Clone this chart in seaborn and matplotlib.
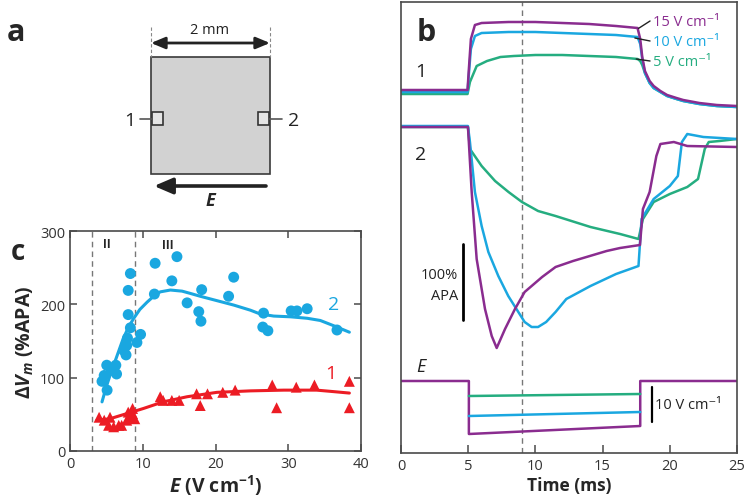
import matplotlib
matplotlib.use("Agg")
import matplotlib.pyplot as plt
import seaborn as sns
from matplotlib.patches import Rectangle, FancyArrowPatch

PURPLE = "#8a2c8f"
BLUE = "#1aa7e0"
GREEN = "#25ad80"
RED = "#ec1c24"
FRAME = "#4a4a4a"

# ---- panel c: peak depolarisation vs field strength ----
site2_e = [4.4, 4.7, 5.05, 5.1, 5.7, 6.3, 6.4, 7.4, 7.7, 7.8, 7.9, 8.0, 8.0, 8.3, 8.3,
           9.2, 9.7, 11.6, 11.7, 14.0, 14.7, 16.1, 17.7, 18.0, 18.1, 21.8, 22.5,
           26.5, 26.6, 27.2, 30.4, 31.2, 32.6, 36.7]
site2_v = [95, 103, 117, 83, 110, 117, 105, 137, 131, 144, 154, 186, 219, 242, 168,
           148, 159, 214, 256, 232, 265, 202, 190, 177, 220, 211, 237,
           169, 188, 164, 191, 191, 194, 165]
site1_e = [4.0, 4.7, 5.3, 5.5, 6.0, 6.7, 7.1, 7.8, 8.0, 8.3, 8.6, 8.6, 8.9, 12.4, 12.8,
           14.0, 15.0, 17.4, 17.9, 18.9, 21.0, 22.7, 27.8, 28.4, 31.1, 33.6, 38.4, 38.4]
site1_v = [46, 42, 35, 46, 33, 35, 35, 42, 53, 46, 58, 51, 44, 74, 69,
           69, 69, 78, 62, 78, 80, 83, 90, 59, 87, 90, 95, 59]
fit2_e = [4.4, 5.0, 5.5, 6.4, 7.3, 8.0, 8.7, 9.6, 10.6, 11.5, 12.4, 13.8, 15.4, 16.5,
          17.9, 20.2, 22.5, 24.8, 26.1, 28.0, 30.3, 32.6, 34.4, 36.2, 38.4]
fit2_v = [67, 88, 103, 128, 153, 168, 180, 193, 203, 211, 217, 219.5, 218, 215,
          211, 205, 199, 192, 187, 184, 183, 181, 178, 171, 162]
fit1_e = [3.7, 5.5, 7.8, 10.1, 12.8, 16.1, 20.2, 24.8, 29.4, 33.9, 36.2, 38.4]
fit1_v = [42, 44, 51, 58, 67, 74, 80, 82, 83, 83, 81, 79]
regime_edges = [3, 9]

# ---- panel b: optical traces (vertical position, axis points downward) ----
t1_fast = [0, 4.95, 5.05, 5.2, 5.5, 6.0, 8, 10, 12, 14, 16, 17.6, 17.8, 17.95, 18.15,
           18.5, 18.8, 19.3, 19.8, 20.5, 21.0, 22.2, 23.5, 25]
s1_15 = [91, 91, 70, 40, 26, 24, 23, 23, 24, 25, 27, 29, 40, 58, 72,
         82, 87, 92, 96, 99, 101, 104, 106, 107]
s1_10 = [93, 93, 75, 50, 37, 34, 33, 33, 34, 35, 36, 38, 45, 60, 74,
         84, 89, 93, 97, 100, 102, 105, 107, 108]
t1_slow = [0, 4.95, 5.13, 5.63, 6.4, 7.4, 8.4, 10, 12, 14, 16, 17.6, 17.8, 17.95, 18.15,
           18.5, 18.8, 19.3, 19.8, 20.5, 21.0, 22.2, 23.5, 25]
s1_5 = [95, 95, 83, 67, 62, 58, 57, 56, 56, 57, 58, 60, 62, 66, 74,
        84, 89, 93, 97, 100, 102, 105, 107, 108]

t2_15 = [0, 4.98, 5.0, 5.26, 5.63, 6.25, 6.75, 7.12, 7.74, 8.48, 9.2, 10.5, 11.5,
         12.8, 15.3, 16.3, 17.78, 18.0, 18.5, 19.0, 19.3, 20.3, 21.3, 25]
s2_15 = [128, 128, 132, 193, 260, 310, 337, 349, 330, 310, 293, 278, 268,
         262, 252, 249, 246, 210, 193, 157, 145, 143, 147, 148]
t2_10 = [0, 4.98, 5.13, 5.5, 6.0, 6.5, 7.24, 7.98, 8.73, 9.2, 9.72, 10.2, 10.8, 11.5,
         12.3, 14.1, 16.0, 17.67, 17.9, 18.8, 20.0, 20.6, 20.9, 21.3, 22.5, 25]
s2_10 = [127, 127, 143, 193, 227, 253, 277, 297, 313, 323, 328, 328, 323, 313,
         300, 287, 275, 267, 220, 200, 187, 177, 143, 135, 138, 140]
t2_5 = [0, 4.98, 5.13, 6.0, 7.0, 8.0, 9.0, 10.2, 11.5, 14.1, 16.3, 17.67, 18.0, 18.8,
        20.0, 21.3, 22.1, 22.6, 22.9, 23.7, 25]
s2_5 = [128, 128, 150, 167, 182, 193, 203, 212, 217, 228, 235, 240, 220, 203,
        195, 188, 180, 150, 143, 142, 140]

tE_15 = [0, 5.05, 5.05, 17.8, 17.8, 25]
sE_15 = [382, 382, 435, 427, 382, 382]
tE_on = [5.05, 17.8]
sE_10 = [417, 413]
sE_5 = [397, 395]

field_labels = ["15 V cm\u207b\u00b9", "10 V cm\u207b\u00b9", "5 V cm\u207b\u00b9"]
time_ticks = [0, 5, 10, 15, 20, 25]

sns.set_style("ticks")
plt.rcParams["font.family"] = ["Open Sans", "DejaVu Sans"]
plt.rcParams["mathtext.fontset"] = "custom"
plt.rcParams["mathtext.rm"] = "Open Sans:bold"
plt.rcParams["mathtext.it"] = "Open Sans:italic:bold"
plt.rcParams["mathtext.bf"] = "Open Sans:bold"

fig = plt.figure(figsize=(7.5, 5.02), dpi=100)

# ---------------- panel a (schematic) ----------------
ax_a = fig.add_axes([0, 301.2 / 502, 390 / 750, 200.8 / 502])
ax_a.set_xlim(0, 390)
ax_a.set_ylim(200.8, 0)
ax_a.axis("off")
ax_a.add_patch(Rectangle((151, 58), 119, 117, fc="#d2d2d2", ec="#3a3a3a", lw=1.2))
for x0 in (152, 258):
    ax_a.add_patch(Rectangle((x0, 113), 11, 13, fc="#e4e4e4", ec="#333333", lw=1.2))
ax_a.plot([140, 152], [120, 120], color="#555555", lw=1.2)
ax_a.plot([269, 282], [120, 120], color="#555555", lw=1.2)
ax_a.text(130, 121, "1", fontsize=14, ha="center", va="center", color="#222222")
ax_a.text(294, 121, "2", fontsize=14, ha="center", va="center", color="#222222")
for xv in (151, 270):
    ax_a.plot([xv, xv], [28, 58], color="#888888", lw=0.8, ls=(0, (3, 2)))
ax_a.add_patch(FancyArrowPatch((151, 44), (270, 44),
                               arrowstyle="<|-|>,head_length=0.6,head_width=0.25",
                               mutation_scale=14, lw=2, color="#222222",
                               shrinkA=0, shrinkB=0))
ax_a.text(210, 31, "2 mm", fontsize=10.5, ha="center", va="center", color="#222222")
ax_a.add_patch(FancyArrowPatch((266, 187), (154, 187),
                               arrowstyle="-|>,head_length=0.7,head_width=0.3",
                               mutation_scale=16, lw=2.6, color="#222222",
                               shrinkA=0, shrinkB=0))
ax_a.text(210, 201, "E", fontsize=13, style="italic", weight="bold",
          ha="center", va="center")
ax_a.text(16, 33, "a", fontsize=22, weight="bold", ha="center", va="center")

# ---------------- panel c ----------------
ax_c = fig.add_axes([70 / 750, 50 / 502, 291 / 750, 220 / 502])
for xe in regime_edges:
    ax_c.axvline(xe, color="#777777", lw=1, ls=(0, (4, 3)), zorder=1)
sns.lineplot(x=fit2_e, y=fit2_v, color=BLUE, lw=2.2, sort=False, estimator=None, ax=ax_c)
sns.scatterplot(x=site2_e, y=site2_v, color=BLUE, s=62, marker="o",
                edgecolor="none", ax=ax_c, zorder=3)
sns.lineplot(x=fit1_e, y=fit1_v, color=RED, lw=2.2, sort=False, estimator=None, ax=ax_c)
sns.scatterplot(x=site1_e, y=site1_v, color=RED, s=62, marker="^",
                edgecolor="none", ax=ax_c, zorder=3)
ax_c.set_xlim(0, 40)
ax_c.set_ylim(0, 300)
ax_c.set_xticks([0, 10, 20, 30, 40])
ax_c.set_yticks([0, 100, 200, 300])
ax_c.tick_params(direction="in", top=True, right=True, length=5, width=1.1,
                 labelsize=10.5, color=FRAME, labelcolor="#333333")
for sp in ax_c.spines.values():
    sp.set_color(FRAME)
    sp.set_linewidth(1.2)
ax_c.text(5.0, 283, "II", fontsize=8.5, weight="bold", ha="center", va="center")
ax_c.text(13.5, 282, "III", fontsize=8.5, weight="bold", ha="center", va="center")
ax_c.text(36.2, 200, "2", fontsize=14, color=BLUE, ha="center", va="center")
ax_c.text(35.9, 106, "1", fontsize=14, color=RED, ha="center", va="center")
ax_c.set_xlabel(r"$E$ (V cm$^{-1}$)", fontsize=14, weight="bold", labelpad=1)
ax_c.set_ylabel(r"$\Delta V_m$ (%APA)", fontsize=14, weight="bold", labelpad=3)
fig.text(18 / 750, 1 - 253 / 502, "c", fontsize=20, weight="bold", ha="center", va="center")

# ---------------- panel b ----------------
ax_b = fig.add_axes([401 / 750, 48 / 502, 336 / 750, 451 / 502])
ax_b.axvline(9, color="#777777", lw=1, ls=(0, (4, 3)), zorder=1)
kw = dict(lw=1.8, sort=False, estimator=None, ax=ax_b)
sns.lineplot(x=t1_slow, y=s1_5, color=GREEN, **kw)
sns.lineplot(x=t1_fast, y=s1_10, color=BLUE, **kw)
sns.lineplot(x=t1_fast, y=s1_15, color=PURPLE, **kw)
sns.lineplot(x=t2_5, y=s2_5, color=GREEN, **kw)
sns.lineplot(x=t2_10, y=s2_10, color=BLUE, **kw)
sns.lineplot(x=t2_15, y=s2_15, color=PURPLE, **kw)
sns.lineplot(x=tE_15, y=sE_15, color=PURPLE, **kw)
sns.lineplot(x=tE_on, y=sE_10, color=BLUE, **kw)
sns.lineplot(x=tE_on, y=sE_5, color=GREEN, **kw)
ax_b.set_xlim(0, 25)
ax_b.set_ylim(454, 3)
ax_b.set_xticks(time_ticks)
ax_b.set_yticks([])
ax_b.tick_params(axis="x", direction="in", length=6, width=1.1, labelsize=10.5,
                 color=FRAME, labelcolor="#333333")
for sp in ax_b.spines.values():
    sp.set_color(FRAME)
    sp.set_linewidth(1.2)
ax_b.set_xlabel("Time (ms)", fontsize=12.5, weight="bold", labelpad=2)

# field labels with leader lines
lab_y = [22, 42, 62]
lead = [([17.66, 18.53], [29.5, 22]), ([17.4, 18.53], [39, 42]), ([17.5, 18.53], [60, 62])]
for txt, col, y, (lx, ly) in zip(field_labels, [PURPLE, BLUE, GREEN], lab_y, lead):
    ax_b.plot(lx, ly, color="#222222", lw=1)
    ax_b.text(18.75, y, txt, color=col, fontsize=10.5, ha="left", va="center")

# scale bars
ax_b.plot([4.59, 4.59], [245, 321], color="black", lw=2)
ax_b.text(4.25, 276, "100%", fontsize=10.5, ha="right", va="center", color="#222222")
ax_b.text(4.25, 297, "APA", fontsize=10.5, ha="right", va="center", color="#222222")
ax_b.plot([18.65, 18.65], [388, 423], color="black", lw=1.6)
ax_b.text(18.9, 406, "10 V cm\u207b\u00b9", fontsize=10.5, ha="left", va="center",
          color="#222222")

ax_b.text(1.47, 72, "1", fontsize=14, ha="center", va="center", color="#222222")
ax_b.text(1.47, 155, "2", fontsize=14, ha="center", va="center", color="#222222")
ax_b.text(1.45, 367, "E", fontsize=13, style="italic", ha="center", va="center",
          color="#222222")
ax_b.text(1.86, 33, "b", fontsize=22, weight="bold", ha="center", va="center")

fig.savefig("out.png", dpi=100)
